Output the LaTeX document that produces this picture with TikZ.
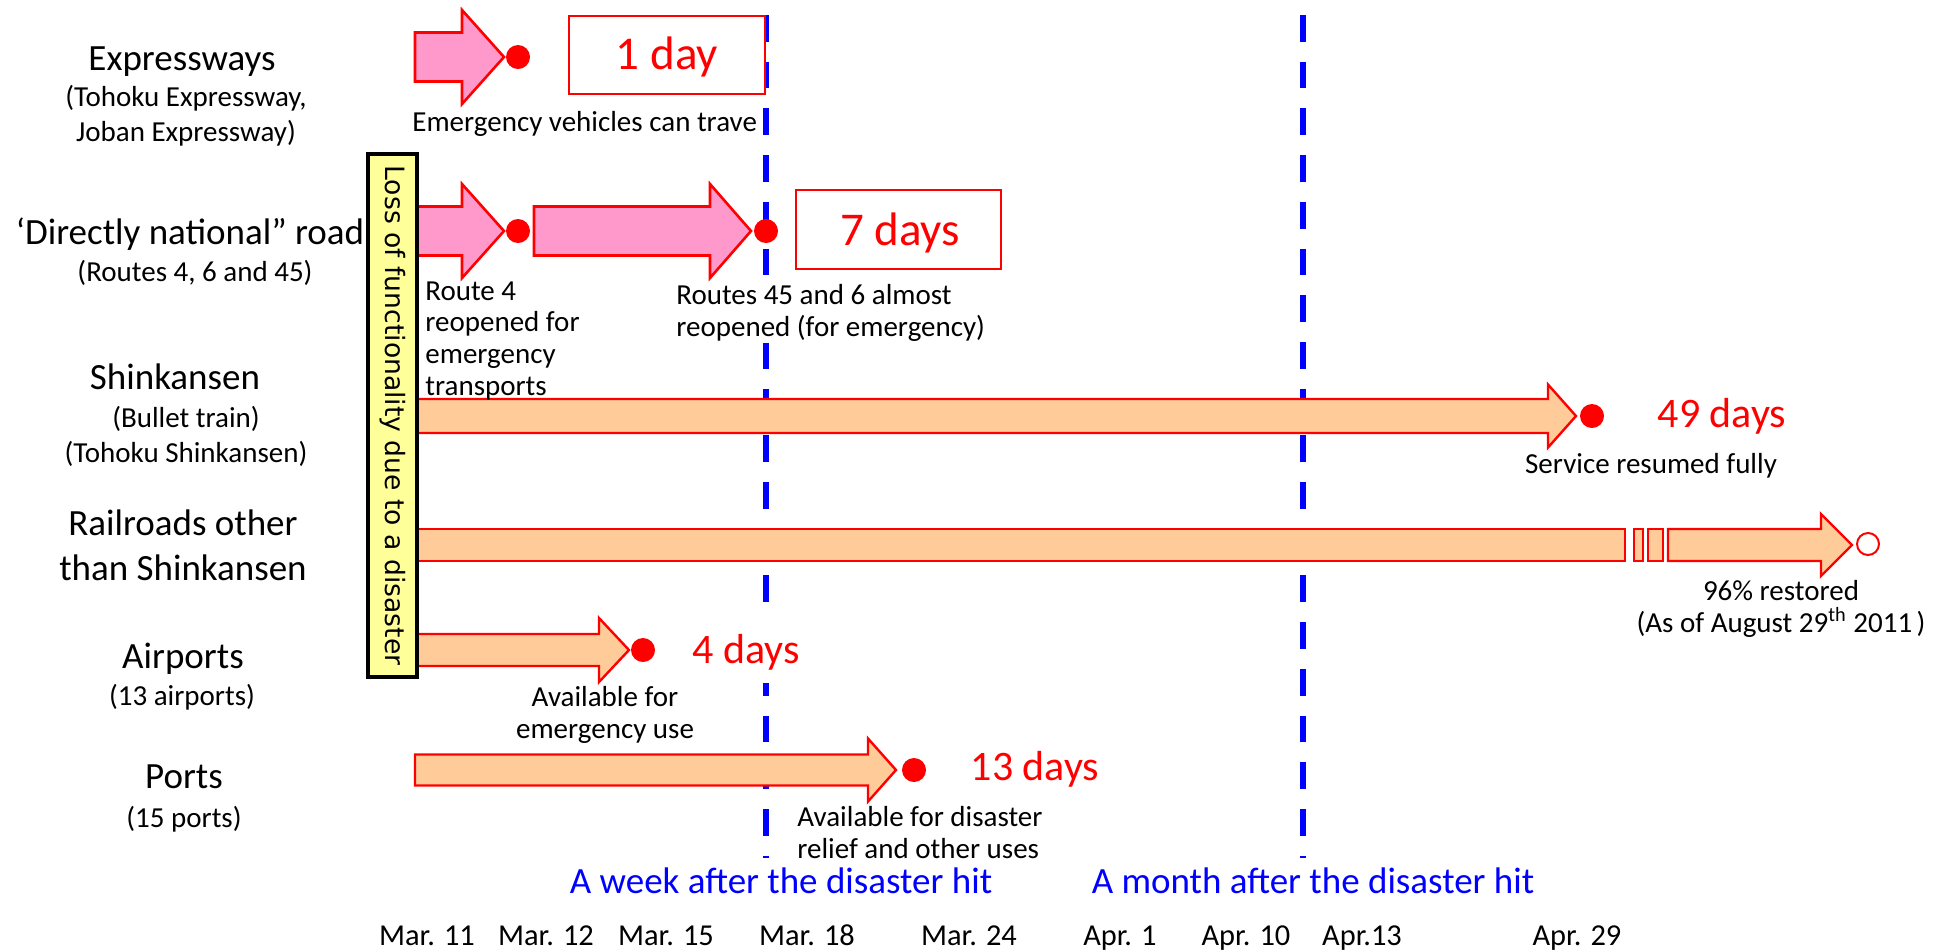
\documentclass[tikz,border=0pt]{standalone}
\usepackage{fontspec}
\setmainfont{Carlito}
\newfontfamily\lossfont{DejaVu Sans}
\definecolor{pinkfill}{HTML}{FF99CC}
\definecolor{peachfill}{HTML}{FFCC99}
\definecolor{lossyellow}{HTML}{FFFF99}
\definecolor{markred}{HTML}{FF0000}
\definecolor{weekblue}{HTML}{0000FF}

% block arrow: style, tail x, head base x, tip x, centre y, shaft half, head half
\newcommand{\blockarrow}[7]{%
	\draw[#1] (#2,#5-#6) -- (#3,#5-#6) -- (#3,#5-#7) -- (#4,#5)
	-- (#3,#5+#7) -- (#3,#5+#6) -- (#2,#5+#6) -- cycle;}

\begin{document}
\begin{tikzpicture}[
	x=0.5pt, y=-0.5pt,
	rowlabel/.style={font=\fontsize{18.5}{22.5}\selectfont, anchor=base, align=center, inner sep=0pt},
	sublabel/.style={font=\fontsize{14.5}{17.3}\selectfont, anchor=base, align=center, inner sep=0pt},
	note/.style={font=\fontsize{14.5}{15.8}\selectfont, anchor=base west, align=left, inner sep=0pt},
	daytext/.style={font=\fontsize{21}{24}\selectfont, text=markred, anchor=base, inner sep=0pt},
	bigday/.style={daytext, font=\fontsize{23.5}{28}\selectfont},
	daybox/.style={draw=markred, line width=1.2pt, fill=white, inner sep=0pt},
	dot/.style={circle, fill=markred, minimum size=12pt, inner sep=0pt},
	opendot/.style={circle, draw=markred, fill=white, line width=1pt, minimum size=11pt, inner sep=0pt},
	pinkarrow/.style={draw=markred, fill=pinkfill, line width=1.3pt},
	peacharrow/.style={draw=markred, fill=peachfill, line width=1.2pt},
	weekline/.style={weekblue, line width=3pt, dash pattern=on 13.35pt off 10pt},
	periodlabel/.style={font=\fontsize{18.5}{22}\selectfont, text=weekblue, anchor=base, inner sep=0pt},
	datelabel/.style={font=\fontsize{15.2}{18}\selectfont, anchor=base, inner sep=0pt},
	lossbox/.style={draw=black, line width=1.75pt, fill=lossyellow, rotate=-90,
		font=\lossfont\fontsize{13.3}{15}\selectfont, inner sep=0pt},
	]
	\useasboundingbox (0,0) rectangle (1944,950);
	
	% week / month lines
	\draw[weekline] (766,15) -- (766,858);
	\draw[weekline] (1303,15) -- (1303,858);
	
	% row labels (multi-line nodes sit on their last baseline)
	\node[rowlabel] (expr) at (182,70) {Expressways};
	\node[sublabel] (exprsub) at (186,141) {(Tohoku Expressway,\\Joban Expressway)};
	\node[rowlabel] (natroad) at (190,244) {‘Directly national” road};
	\node[sublabel] (natroadsub) at (195,281) {(Routes 4, 6 and 45)};
	\node[rowlabel] (shink) at (175,389) {Shinkansen};
	\node[sublabel] (shinksub) at (186,462) {(Bullet train)\\(Tohoku Shinkansen)};
	\node[rowlabel] (rail) at (183,580) {Railroads other\\than Shinkansen};
	\node[rowlabel] (air) at (183,668) {Airports};
	\node[sublabel] (airsub) at (182,705) {(13 airports)};
	\node[rowlabel] (port) at (184,788) {Ports};
	\node[sublabel] (portsub) at (184,827) {(15 ports)};
	
	% recovery arrows
	\blockarrow{pinkarrow}{415}{462}{504}{57}{24.5}{47}
	\blockarrow{pinkarrow}{415}{462}{504}{231}{24.5}{47}
	\blockarrow{pinkarrow}{534}{710}{751}{231}{24.5}{47}
	\blockarrow{peacharrow}{417}{1548}{1576}{416}{17}{31.5}
	\draw[peacharrow] (417,529) rectangle (1625,561);
	\draw[peacharrow] (1634,529) rectangle (1643,561);
	\draw[peacharrow] (1648,529) rectangle (1663,561);
	\blockarrow{peacharrow}{1668}{1821}{1852}{545}{16}{31}
	\blockarrow{peacharrow}{417}{599}{629}{650}{16}{32}
	\blockarrow{peacharrow}{415}{868}{896}{770}{15.5}{31.5}
	
	\node[lossbox, minimum width=261.5pt, minimum height=24.5pt] (loss) at (392.5,415.5)
	{Loss of functionality due to a disaster};
	
	% end points
	\node[dot] (exprend) at (518,57) {};
	\node[dot] (route4end) at (518,231) {};
	\node[dot] (route45end) at (766,231) {};
	\node[dot] (shinkend) at (1592,416) {};
	\node[opendot] (railend) at (1868,544) {};
	\node[dot] (airend) at (643,650) {};
	\node[dot] (portend) at (914,770) {};
	
	% durations
	\node[daybox, minimum width=98pt, minimum height=39pt] (onedaybox) at (667,55) {};
	\node[bigday] (oneday) at (667,69) {1 day};
	\node[daybox, minimum width=102.5pt, minimum height=39.5pt] (sevendaybox) at (898.5,229.5) {};
	\node[bigday] (sevendays) at (900,245) {7 days};
	\node[daytext] (fortyninedays) at (1722,427) {49 days};
	\node[daytext, fill=white, inner sep=6.5pt] (fourdays) at (746,663) {4 days};
	\node[daytext] (thirteendays) at (1035,780) {13 days};
	
	% notes
	\node[note] (exprnote) at (412,131) {Emergency vehicles can trave};
	\node[note] (route4note) at (425,395) {Route 4\\reopened for\\emergency\\transports};
	\node[note, fill=white, inner sep=1pt] (route45note) at (674,336) {Routes 45 and 6 almost\\reopened (for emergency)};
	\node[note, anchor=base, align=center] (shinknote) at (1651,473) {Service resumed fully};
	\node[note, anchor=base, align=center] (railnote) at (1781,632)
	{96\% restored\\(As of August 29\textsuperscript{th} 2011\hspace{0.15em})};
	\node[note, anchor=base, align=center] (airnote) at (605,738) {Available for\\emergency use};
	\node[note] (portnote) at (797,858) {Available for disaster\\relief and other uses};
	
	% time axis
	\node[periodlabel] (weeklabel) at (781,893) {A week after the disaster hit};
	\node[periodlabel] (monthlabel) at (1313,893) {A month after the disaster hit};
	\foreach \dx/\dtext [count=\i] in {427/Mar. 11, 546/Mar. 12, 666/Mar. 15, 807/Mar. 18,
		969/Mar. 24, 1120/Apr. 1, 1246/Apr. 10, 1362/Apr.13, 1577/Apr. 29}
	\node[datelabel] (date\i) at (\dx,945) {\dtext};
\end{tikzpicture}
\end{document}
